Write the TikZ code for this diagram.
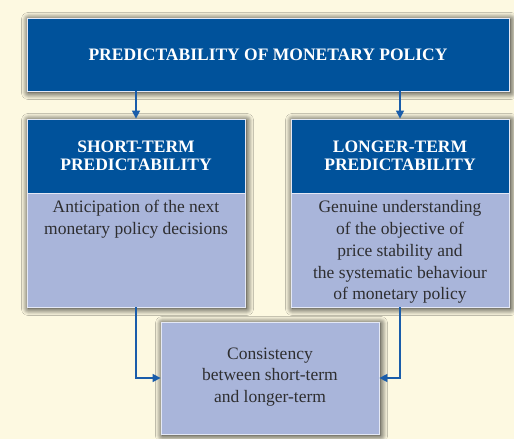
\documentclass[tikz,border=0pt]{standalone}
\usepackage{fontspec}
\setmainfont{Liberation Serif}
\usetikzlibrary{shadows.blur,arrows.meta}
\definecolor{cream}{HTML}{FDF9E1}
\definecolor{ecbblue}{HTML}{00529B}
\definecolor{lightpanel}{HTML}{A9B5DA}
\definecolor{linkblue}{HTML}{1A5DAA}
\definecolor{bodytext}{HTML}{2E2E30}
\definecolor{rim}{HTML}{E4E8F5}
\tikzset{
  softshadow/.style={blur shadow={shadow xshift=1.5pt, shadow yshift=-1.5pt,
      shadow blur radius=7pt, shadow opacity=95, shadow blur steps=16}},
  darkbox/.style={fill=ecbblue, draw=rim, line width=0.8pt, text=white,
      font=\fontsize{17.5}{18.5}\selectfont\bfseries, align=center, inner sep=0pt},
  lightbox/.style={fill=lightpanel, draw=rim, line width=0.8pt, inner sep=0pt},
  bodylabel/.style={text=bodytext, font=\fontsize{17.5}{21.8}\selectfont, align=center, inner sep=0pt},
  conn/.style={draw=linkblue, line width=1.5pt, -{Triangle[length=8pt,width=8pt]}},
}
\begin{document}
\begin{tikzpicture}[x=1pt,y=1pt]
  % page background
  \fill[cream] (0,0) rectangle (514,439);
  \useasboundingbox (0,0) rectangle (514,439);

  % top banner
  \node[darkbox, softshadow, minimum width=482pt, minimum height=73pt] (top) at (268,384.5)
    {PREDICTABILITY OF MONETARY POLICY};

  % left column: light panel with dark heading
  \node[lightbox, softshadow, minimum width=218pt, minimum height=188pt] (leftcol) at (136,226) {};
  \node[darkbox, minimum width=218pt, minimum height=74pt] (lh) at (136,283)
    {SHORT-TERM\\PREDICTABILITY};
  \node[bodylabel, anchor=north] (lb) at ([yshift=-7pt]lh.south)
    {Anticipation of the next\\monetary policy decisions};

  % right column
  \node[lightbox, softshadow, minimum width=218pt, minimum height=188pt] (rightcol) at (400,226) {};
  \node[darkbox, minimum width=218pt, minimum height=74pt] (rh) at (400,283)
    {LONGER-TERM\\PREDICTABILITY};
  \node[bodylabel, anchor=north] (rb) at ([yshift=-7pt]rh.south)
    {Genuine understanding\\of the objective of\\price stability and\\the systematic behaviour\\of monetary policy};

  % bottom box
  \node[lightbox, softshadow, minimum width=218pt, minimum height=112pt] (bot) at (270,61) {};
  \node[bodylabel] (bt) at ([yshift=1pt]bot.center)
    {Consistency\\between short-term\\and longer-term};

  % connectors
  \draw[conn] (top.south -| lh.north) -- (lh.north);
  \draw[conn] (top.south -| rh.north) -- (rh.north);
  \draw[conn] (leftcol.south) |- (bot.west);
  \draw[conn] (rightcol.south) |- (bot.east);
\end{tikzpicture}
\end{document}
